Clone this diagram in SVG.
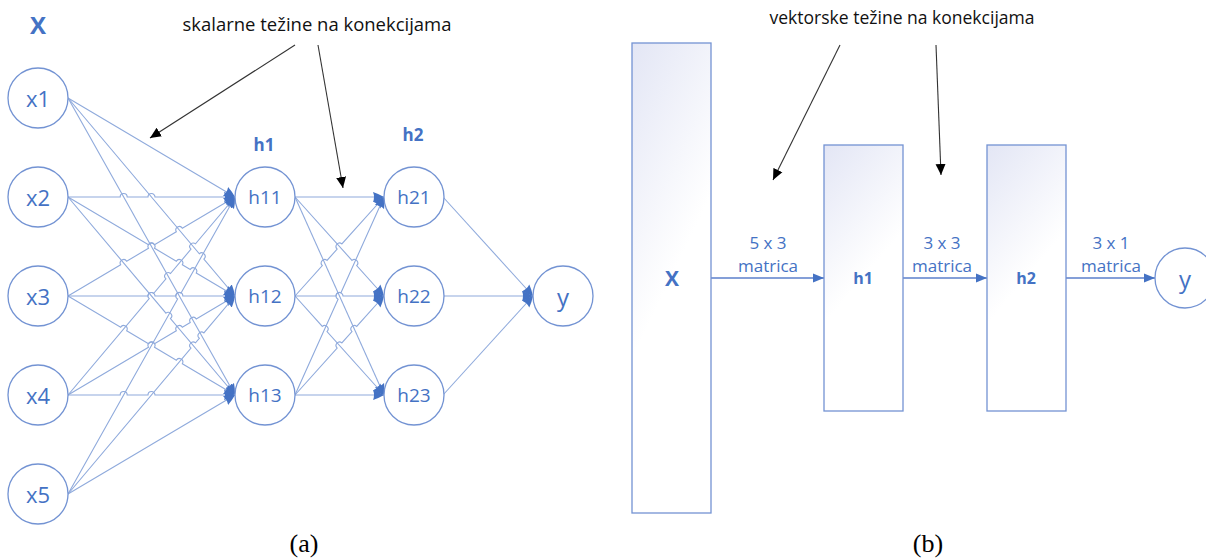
<svg xmlns="http://www.w3.org/2000/svg" width="1206" height="560" viewBox="0 0 1206 560">
<style>
.node{fill:#ffffff;stroke:#7393d3;stroke-width:1.3}
.nt{font-family:"Open Sans","Liberation Sans",sans-serif;fill:#4472c4;text-anchor:middle;dominant-baseline:central}
.lt{font-family:"Open Sans","Liberation Sans",sans-serif;fill:#4472c4;font-weight:bold;text-anchor:middle;dominant-baseline:central}
.ann{font-family:"Open Sans","Liberation Sans",sans-serif;fill:#111;text-anchor:middle}
.cap{font-family:"Liberation Serif",serif;fill:#000;font-size:26px;text-anchor:middle}
.c{stroke:#8faadc;stroke-width:1.1;fill:none;marker-end:url(#ab)}
.k{stroke:#333;stroke-width:1.1;fill:none;marker-end:url(#ak)}
.r{stroke:#5b7fcb;stroke-width:1.3;fill:none;marker-end:url(#ar)}
.box{fill:url(#g);stroke:#7393d3;stroke-width:1.3}
</style>
<defs>
<marker id="ab" markerUnits="userSpaceOnUse" markerWidth="12" markerHeight="12" viewBox="0 0 12 12" refX="11" refY="6" orient="auto">
<path d="M0,1 Q6,3 11,6 Q6,9 0,11 Q2,6 0,1 Z" fill="#4472c4"/>
</marker>
<marker id="ak" markerUnits="userSpaceOnUse" markerWidth="12" markerHeight="12" viewBox="0 0 12 12" refX="11" refY="6" orient="auto">
<path d="M0,1 L11,6 L0,11 Z" fill="#000"/>
</marker>
<marker id="ar" markerUnits="userSpaceOnUse" markerWidth="12" markerHeight="12" viewBox="0 0 12 12" refX="11" refY="6" orient="auto">
<path d="M0,1.5 L11,6 L0,10.5 Z" fill="#4472c4"/>
</marker>
<linearGradient id="g" x1="0" y1="0" x2="0.35" y2="1">
<stop offset="0" stop-color="#e3e6f5"/>
<stop offset="0.6" stop-color="#ffffff"/>
<stop offset="1" stop-color="#ffffff"/>
</linearGradient>
</defs>
<g id="connectors">
<!-- x1 -> h1 -->
<path class="c" d="M68,98 L235,197"/>
<path class="c" d="M68,98 L199.34,253.73 A3.5,3.5 0 0 1 203.86,259.08 L235,296"/>
<path class="c" d="M68,98 L235,395"/>
<!-- x2 -> h1 -->
<path class="c" d="M68,197 L120.17,197 A3.5,3.5 0 0 1 127.17,197 L148,197 A3.5,3.5 0 0 1 155,197 L235,197"/>
<path class="c" d="M68,197 L148.49,244.72 A3.5,3.5 0 0 1 154.51,248.29 L176.32,261.22 A3.5,3.5 0 0 1 182.34,264.79 L190.24,269.47 A3.5,3.5 0 0 1 196.26,273.04 L235,296"/>
<path class="c" d="M68,197 L165.94,313.13 A3.5,3.5 0 0 1 170.46,318.48 L235,395"/>
<!-- x3 -> h1 -->
<path class="c" d="M68,296 L120.66,264.79 A3.5,3.5 0 0 1 126.68,261.22 L148.49,248.29 A3.5,3.5 0 0 1 154.51,244.72 L176.32,231.79 A3.5,3.5 0 0 1 182.34,228.22 L235,197"/>
<path class="c" d="M68,296 L148,296 A3.5,3.5 0 0 1 155,296 L175.83,296 A3.5,3.5 0 0 1 182.83,296 L235,296"/>
<path class="c" d="M68,296 L120.66,327.22 A3.5,3.5 0 0 1 126.68,330.79 L148.49,343.72 A3.5,3.5 0 0 1 154.51,347.29 L176.32,360.22 A3.5,3.5 0 0 1 182.34,363.79 L235,395"/>
<!-- x4 -> h1 -->
<path class="c" d="M68,395 L149.24,298.68 A3.5,3.5 0 0 1 153.76,293.33 L165.94,278.88 A3.5,3.5 0 0 1 170.46,273.53 L190.99,249.18 A3.5,3.5 0 0 1 195.51,243.83 L235,197"/>
<path class="c" d="M68,395 L148.49,347.29 A3.5,3.5 0 0 1 154.51,343.72 L176.32,330.79 A3.5,3.5 0 0 1 182.34,327.22 L190.24,322.54 A3.5,3.5 0 0 1 196.26,318.97 L235,296"/>
<path class="c" d="M68,395 L120.17,395 A3.5,3.5 0 0 1 127.17,395 L148,395 A3.5,3.5 0 0 1 155,395 L235,395"/>
<!-- x5 -> h1 -->
<path class="c" d="M68,494 L177.62,299.05 A3.5,3.5 0 0 1 181.05,292.95 L235,197"/>
<path class="c" d="M68,494 L190.99,348.18 A3.5,3.5 0 0 1 195.51,342.83 L199.34,338.28 A3.5,3.5 0 0 1 203.86,332.93 L235,296"/>
<path class="c" d="M68,494 L235,395"/>
<!-- h1 -> h2 -->
<path class="c" d="M295,197 L384,197"/>
<path class="c" d="M295,197 L351.99,260.4 A3.5,3.5 0 0 1 356.67,265.6 L384,296"/>
<path class="c" d="M295,197 L384,395"/>
<path class="c" d="M295,296 L322.33,265.6 A3.5,3.5 0 0 1 327.01,260.4 L337.16,249.1 A3.5,3.5 0 0 1 341.84,243.9 L384,197"/>
<path class="c" d="M295,296 L336,296 A3.5,3.5 0 0 1 343,296 L384,296"/>
<path class="c" d="M295,296 L322.33,326.4 A3.5,3.5 0 0 1 327.01,331.6 L384,395"/>
<path class="c" d="M295,395 L338.07,299.19 A3.5,3.5 0 0 1 340.94,292.81 L384,197"/>
<path class="c" d="M295,395 L337.16,348.1 A3.5,3.5 0 0 1 341.84,342.9 L351.99,331.6 A3.5,3.5 0 0 1 356.67,326.4 L384,296"/>
<path class="c" d="M295,395 L384,395"/>
<!-- h2 -> y -->
<path class="c" d="M443,197 L533,296"/><path class="c" d="M443,296 L533,296"/><path class="c" d="M443,395 L533,296"/>
<!-- annotations -->
<path class="k" d="M295,45 L150,138"/>
<path class="k" d="M318,45 L343,188"/>
<path class="k" d="M840,45 L773,180"/>
<path class="k" d="M936,45 L941,175"/>
<!-- right panel -->
<path class="r" d="M711,278 L824,278"/>
<path class="r" d="M903,278 L987,278"/>
<path class="r" d="M1066,278 L1155,278"/>
</g>
<g id="label-X"><text class="lt" x="38" y="24" font-size="24">X</text></g>
<g id="label-h1"><text class="lt" x="264" y="144" font-size="17">h1</text></g>
<g id="label-h2"><text class="lt" x="413" y="134" font-size="17">h2</text></g>
<g id="ann-a"><text class="ann" x="317" y="31" font-size="18" textLength="269" lengthAdjust="spacingAndGlyphs">skalarne težine na konekcijama</text></g>
<g id="ann-b"><text class="ann" x="902" y="24" font-size="18" textLength="265" lengthAdjust="spacingAndGlyphs">vektorske težine na konekcijama</text></g>
<g id="x1"><circle class="node" cx="38" cy="98" r="30"/><text class="nt" x="38" y="98" font-size="22">x1</text></g>
<g id="x2"><circle class="node" cx="38" cy="197" r="30"/><text class="nt" x="38" y="197" font-size="22">x2</text></g>
<g id="x3"><circle class="node" cx="38" cy="296" r="30"/><text class="nt" x="38" y="296" font-size="22">x3</text></g>
<g id="x4"><circle class="node" cx="38" cy="395" r="30"/><text class="nt" x="38" y="395" font-size="22">x4</text></g>
<g id="x5"><circle class="node" cx="38" cy="494" r="30"/><text class="nt" x="38" y="494" font-size="22">x5</text></g>
<g id="h11"><circle class="node" cx="265" cy="197" r="30"/><text class="nt" x="265" y="197" font-size="19">h11</text></g>
<g id="h12"><circle class="node" cx="265" cy="296" r="30"/><text class="nt" x="265" y="296" font-size="19">h12</text></g>
<g id="h13"><circle class="node" cx="265" cy="395" r="30"/><text class="nt" x="265" y="395" font-size="19">h13</text></g>
<g id="h21"><circle class="node" cx="414" cy="197" r="30"/><text class="nt" x="414" y="197" font-size="19">h21</text></g>
<g id="h22"><circle class="node" cx="414" cy="296" r="30"/><text class="nt" x="414" y="296" font-size="19">h22</text></g>
<g id="h23"><circle class="node" cx="414" cy="395" r="30"/><text class="nt" x="414" y="395" font-size="19">h23</text></g>
<g id="y"><circle class="node" cx="563" cy="296" r="30"/><text class="nt" x="563" y="296" font-size="24">y</text></g>
<g id="boxX"><rect class="box" x="632" y="43" width="79" height="470"/><text class="lt" x="672" y="278" font-size="21">X</text></g>
<g id="boxH1"><rect class="box" x="824" y="145" width="79" height="266"/><text class="lt" x="863" y="278" font-size="16">h1</text></g>
<g id="boxH2"><rect class="box" x="987" y="145" width="79" height="266"/><text class="lt" x="1026" y="278" font-size="16">h2</text></g>
<g id="yb"><circle class="node" cx="1185" cy="278" r="30"/><text class="nt" x="1185" y="278" font-size="24">y</text></g>
<g id="edge-labels">
<text class="nt" x="768" y="242" font-size="17">5 x 3</text><text class="nt" x="768" y="265" font-size="17">matrica</text>
<text class="nt" x="942" y="242" font-size="17">3 x 3</text><text class="nt" x="942" y="265" font-size="17">matrica</text>
<text class="nt" x="1111" y="242" font-size="17">3 x 1</text><text class="nt" x="1111" y="265" font-size="17">matrica</text>
</g>
<g id="captions"><text class="cap" x="304" y="552">(a)</text><text class="cap" x="928" y="552">(b)</text></g>
</svg>
